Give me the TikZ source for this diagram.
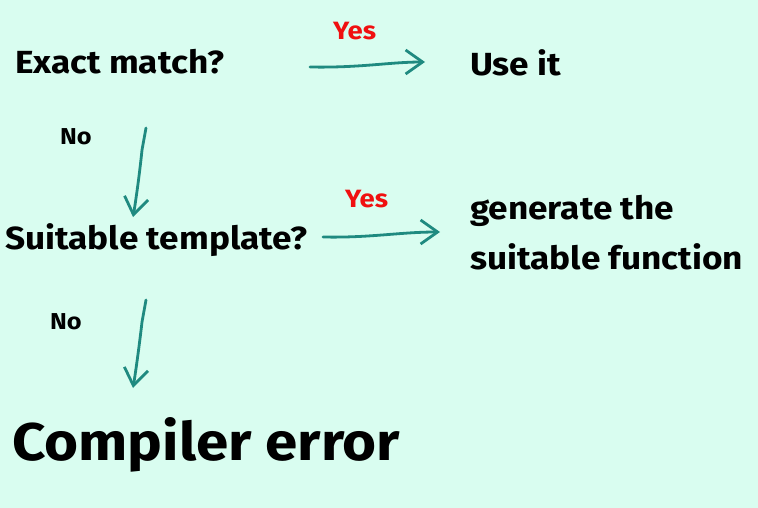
\documentclass[tikz,border=0pt]{standalone}
\usepackage{fontspec}
\setmainfont[FakeStretch=1.1]{Fira Sans}
\usetikzlibrary{arrows.meta}
\definecolor{bgmint}{HTML}{D9FDF0}
\definecolor{arrteal}{HTML}{1F8A80}
\definecolor{yesred}{HTML}{F01010}
\tikzset{
  lbl/.style={anchor=west, inner sep=0pt, text=black, font=\fontsize{32}{50}\bfseries\selectfont},
  big/.style={anchor=west, inner sep=0pt, text=black, font=\fontsize{53}{57}\bfseries\selectfont},
  yes/.style={anchor=west, inner sep=0pt, text=yesred, font=\fontsize{25}{27}\bfseries\selectfont},
  no/.style={anchor=west, inner sep=0pt, text=black, font=\fontsize{23}{25}\bfseries\selectfont},
  flow/.style={draw=arrteal, line width=2.8pt, line cap=round, -{Straight Barb[length=17pt, width=24pt, line width=2.8pt]}},
}
\begin{document}
\begin{tikzpicture}[x=1pt, y=-1pt]
\fill[bgmint] (0,0) rectangle (758,508);
\useasboundingbox (0,0) rectangle (758,508);
\node[lbl] (exact) at (15,62) {Exact match?};
\node[lbl] (use) at (470,63) {Use it};
\node[yes] (yes1) at (333,31) {Yes};
\node[no] (no1) at (60,137) {No};
\node[lbl] (suit) at (5,240) {Suitable template?};
\node[yes] (yes2) at (345,199) {Yes};
\node[lbl, align=left] (gen) at (470,233) {generate the\\suitable function};
\node[no] (no2) at (50,322) {No};
\node[big] (err) at (12,445) {Compiler error};
\coordinate (a1s) at (310,67);
\coordinate (a1e) at (425,62);
\coordinate (a2s) at (146,128);
\coordinate (a2e) at (133,217);
\coordinate (a3s) at (323,237);
\coordinate (a3e) at (440,232);
\coordinate (a4s) at (146,300);
\coordinate (a4e) at (133,388);
\draw[flow] (a1s) .. controls (360,68) and (390,62) .. (a1e);
\draw[flow] (a2s) -- (142,150) .. controls (140,170) and (136,200) .. (a2e);
\draw[flow] (a3s) .. controls (370,238) and (400,232) .. (a3e);
\draw[flow] (a4s) -- (142,322) .. controls (140,340) and (136,370) .. (a4e);
\end{tikzpicture}
\end{document}
